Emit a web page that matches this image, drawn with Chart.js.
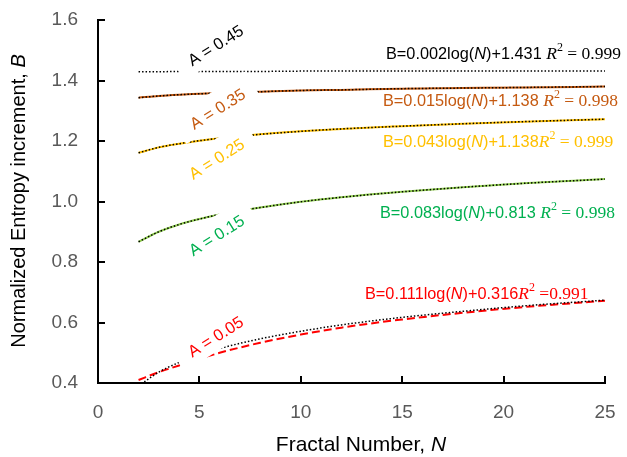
<!DOCTYPE html>
<html>
<head>
<meta charset="utf-8">
<script src="https://cdn.jsdelivr.net/npm/chart.js"></script>
<style>
  body { margin: 0; background: #fff; }
  canvas { display: block; }
</style>
</head>
<body>
<canvas id="chart" width="627" height="457"></canvas>
<script>
const N_VALUES = [2, 3, 4, 5, 6, 8, 10, 12, 15, 18, 21, 25];

// Normalized entropy increment B, one array per A
const B_A045 = [1.429, 1.429, 1.430, 1.430, 1.430, 1.430, 1.431, 1.431, 1.431, 1.431, 1.431, 1.431];
const B_A035 = [1.343, 1.349, 1.353, 1.356, 1.359, 1.363, 1.367, 1.369, 1.373, 1.375, 1.377, 1.380];
const B_A025 = [1.161, 1.179, 1.191, 1.201, 1.209, 1.222, 1.232, 1.240, 1.249, 1.257, 1.264, 1.272];
const B_A015 = [0.867, 0.900, 0.924, 0.942, 0.957, 0.980, 0.999, 1.014, 1.032, 1.047, 1.060, 1.074];
const B_A005 = [0.410, 0.436, 0.458, 0.480, 0.500, 0.533, 0.560, 0.583, 0.610, 0.632, 0.651, 0.672];
// log fit for A = 0.05 (the other fits sit right on their data)
const FIT_A005 = [0.390, 0.436, 0.468, 0.493, 0.514, 0.546, 0.571, 0.592, 0.617, 0.637, 0.655, 0.674];

const X_TICKS = [0, 5, 10, 15, 20, 25];
const Y_TICKS = [0.4, 0.6, 0.8, 1.0, 1.2, 1.4, 1.6];

const SANS = '"Liberation Sans", Arial, sans-serif';
const SERIF = '"Liberation Serif", "Times New Roman", serif';

function pts(ys) {
    return N_VALUES.map((n, i) => ({ x: n, y: ys[i] }));
}

function dataLine(ys, color, dash) {
    return {
        data: pts(ys),
        borderColor: color,
        borderWidth: 2,
        borderDash: dash || [],
        pointRadius: 0,
        cubicInterpolationMode: 'monotone',
        fill: false
    };
}

function fitLine(ys) {
    return {
        data: pts(ys),
        borderColor: '#000',
        borderWidth: 1.5,
        borderDash: [1.5, 2],
        pointRadius: 0,
        cubicInterpolationMode: 'monotone',
        fill: false
    };
}

// "A = ..." labels on white text boxes
const LABELS = [
    { text: 'A = 0.45', color: '#000000', n: 5.79, b: 1.517 },
    { text: 'A = 0.35', color: '#C55A11', n: 5.89, b: 1.307 },
    { text: 'A = 0.25', color: '#FFC000', n: 5.84, b: 1.142 },
    { text: 'A = 0.15', color: '#00B050', n: 5.84, b: 0.889 },
    { text: 'A = 0.05', color: '#FF0000', n: 5.79, b: 0.554 }
];

// trend line equations
const EQUATIONS = [
    { coef: '0.002', icpt: '1.431 ', r2: ' = 0.999', color: '#000000', x: 386, y: 59 },
    { coef: '0.015', icpt: '1.138 ', r2: ' = 0.998', color: '#C55A11', x: 383, y: 106 },
    { coef: '0.043', icpt: '1.138', r2: ' = 0.999', color: '#FFC000', x: 383, y: 147 },
    { coef: '0.083', icpt: '0.813 ', r2: ' = 0.998', color: '#00B050', x: 380, y: 218 },
    { coef: '0.111', icpt: '0.316', r2: ' =0.991', color: '#FF0000', x: 365, y: 299 }
];

function drawParts(ctx, x, y, parts, color) {
    ctx.fillStyle = color;
    parts.forEach(p => {
        ctx.font = p.font;
        ctx.fillText(p.t, x, y + (p.dy || 0));
        x += ctx.measureText(p.t).width;
    });
    return x;
}

function partsWidth(ctx, parts) {
    let w = 0;
    parts.forEach(p => { ctx.font = p.font; w += ctx.measureText(p.t).width; });
    return w;
}

const decorPlugin = {
    id: 'decor',
    afterDatasetsDraw(chart) {
        const ctx = chart.ctx;
        const xs = chart.scales.x, ys = chart.scales.y;
        const area = chart.chartArea;
        ctx.save();

        // inward tick marks
        ctx.strokeStyle = '#000';
        ctx.lineWidth = 2;
        ctx.beginPath();
        X_TICKS.forEach(v => {
            const px = Math.round(xs.getPixelForValue(v));
            ctx.moveTo(px, area.bottom);
            ctx.lineTo(px, area.bottom - 7);
        });
        Y_TICKS.forEach(v => {
            const py = Math.round(ys.getPixelForValue(v));
            ctx.moveTo(area.left, py);
            ctx.lineTo(area.left + 7, py);
        });
        ctx.stroke();

        // rotated labels with white boxes
        const ang = -32 * Math.PI / 180;
        LABELS.forEach(l => {
            ctx.save();
            ctx.translate(xs.getPixelForValue(l.n), ys.getPixelForValue(l.b));
            ctx.rotate(ang);
            ctx.fillStyle = '#fff';
            ctx.fillRect(-45, -17, 88, 30.5);
            ctx.fillStyle = l.color;
            ctx.font = '16.5px ' + SANS;
            ctx.textAlign = 'center';
            ctx.textBaseline = 'alphabetic';
            ctx.fillText(l.text, 0, 5.9);
            ctx.restore();
        });

        // equations
        const sans = '16.3px ' + SANS;
        const serif = '17.5px ' + SERIF;
        EQUATIONS.forEach(e => {
            drawParts(ctx, e.x, e.y, [
                { t: 'B=' + e.coef + 'log(', font: sans },
                { t: 'N', font: 'italic ' + sans },
                { t: ')+' + e.icpt, font: sans },
                { t: 'R', font: 'italic ' + serif },
                { t: '2', font: '12px ' + SERIF, dy: -8 },
                { t: e.r2, font: serif }
            ], e.color);
        });

        // axis titles
        const xParts = [
            { t: 'Fractal Number, ', font: '21px ' + SANS },
            { t: 'N', font: 'italic 21px ' + SANS }
        ];
        const xw = partsWidth(ctx, xParts);
        drawParts(ctx, 361 - xw / 2, 451, xParts, '#000');

        const yParts = [
            { t: 'Normalized Entropy increment, ', font: '20px ' + SANS },
            { t: 'B', font: 'italic 20px ' + SANS }
        ];
        const yw = partsWidth(ctx, yParts);
        ctx.save();
        ctx.translate(25, 201);
        ctx.rotate(-Math.PI / 2);
        drawParts(ctx, -yw / 2, 0, yParts, '#000');
        ctx.restore();

        ctx.restore();
    }
};

const chart = new Chart(document.getElementById('chart').getContext('2d'), {
    type: 'line',
    data: {
        // fits first so they are painted on top of the data lines
        datasets: [
            fitLine(B_A045),
            fitLine(B_A035),
            fitLine(B_A025),
            fitLine(B_A015),
            fitLine(FIT_A005),
            dataLine(B_A035, '#C55A11'),
            dataLine(B_A025, '#FFC000'),
            dataLine(B_A015, '#92D050'),
            dataLine(B_A005, '#FF0000', [8, 4])
        ]
    },
    options: {
        responsive: false,
        animation: false,
        layout: { padding: { top: 20, right: 22, left: 0, bottom: 0 } },
        scales: {
            x: {
                type: 'linear',
                min: 0,
                max: 25,
                afterBuildTicks: s => { s.ticks = X_TICKS.map(v => ({ value: v })); },
                ticks: {
                    color: '#595959',
                    font: { size: 19, family: SANS },
                    padding: 18,
                    maxRotation: 0
                },
                grid: { display: false, drawTicks: false },
                border: { color: '#000', width: 2 },
                afterFit: s => { s.height = 74; s.paddingLeft = 0; s.paddingRight = 0; }
            },
            y: {
                type: 'linear',
                min: 0.4,
                max: 1.6,
                afterBuildTicks: s => { s.ticks = Y_TICKS.map(v => ({ value: v })); },
                ticks: {
                    color: '#595959',
                    font: { size: 19, family: SANS },
                    padding: 20,
                    callback: v => v.toFixed(1)
                },
                grid: { display: false, drawTicks: false },
                border: { color: '#000', width: 2 },
                afterFit: s => { s.width = 98; s.paddingTop = 0; s.paddingBottom = 0; }
            }
        },
        plugins: {
            legend: { display: false },
            tooltip: { enabled: false }
        }
    },
    plugins: [decorPlugin]
});
</script>
</body>
</html>
